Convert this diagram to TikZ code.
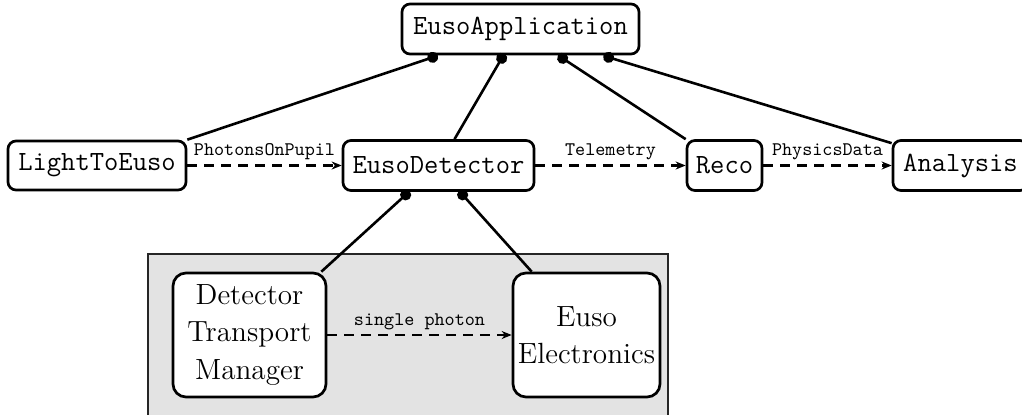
\documentclass[tikz,border=0pt]{standalone}
\usetikzlibrary{arrows.meta,calc}
\begin{document}
\begin{tikzpicture}[x=0.5pt,y=-0.5pt,
 box/.style={draw, line width=1.35pt, rounded corners=4pt, fill=white, inner sep=0pt, font=\fontsize{13.9}{16}\selectfont\ttfamily},
 sbox/.style={draw, line width=1.35pt, rounded corners=6.5pt, fill=white, inner sep=0pt, align=center, font=\fontsize{14.6}{18.75}\selectfont},
 link/.style={line width=1.3pt, {Circle[length=5.5pt]}-, shorten <=-2.75pt},
 flow/.style={line width=1.3pt, dash pattern=on 5pt off 3.5pt, -{Stealth[length=5pt,width=4pt]}},
 lab/.style={above, inner sep=2pt, font=\fontsize{9.6}{11}\selectfont\ttfamily}]
\useasboundingbox (0,0) rectangle (1022,414);
\fill[black!11, draw=black!85, line width=0.9pt] (148,254) rectangle (668,440);
\node[box, minimum width=118.5pt, minimum height=25pt] (app) at (520.5,29) {EusoApplication};
\node[box, minimum width=89pt, minimum height=24.5pt] (lte) at (97,165.5) {LightToEuso};
\node[box, minimum width=95.5pt, minimum height=25pt] (det) at (438.5,165.5) {EusoDetector};
\node[box, minimum width=37.5pt, minimum height=25pt] (reco) at (724.5,165.5) {Reco};
\node[box, minimum width=67.5pt, minimum height=25pt] (ana) at (960.5,165.5) {Analysis};
\node[sbox, minimum width=76.5pt, minimum height=62pt] (dtm) at (249.5,335) {Detector\\Transport\\Manager};
\node[sbox, minimum width=73.5pt, minimum height=62pt] (ee) at (586.5,335) {Euso\\Electronics};
\draw[link] ($(app.south west)+(32,2)$) -- (lte.north east);
\draw[link] ($(app.south west)+(101,3)$) -- ($(det.north)+(16,0)$);
\draw[link] ($(app.south west)+(162,3)$) -- (reco.north west);
\draw[link] ($(app.south west)+(208,2)$) -- ($(ana.north west)+(0,4)$);
\draw[link] ($(det.south west)+(64,3)$) -- ($(dtm.north east)+(-6,0)$);
\draw[link] ($(det.south west)+(121,3)$) -- ($(ee.north west)+(20,0)$);
\draw[flow] (lte.east) -- node[lab] {PhotonsOnPupil} (det.west);
\draw[flow] (det.east) -- node[lab] {Telemetry} (reco.west);
\draw[flow] (reco.east) -- node[lab] {PhysicsData} (ana.west);
\draw[flow] (dtm.east) -- node[lab] {single photon} (ee.west);
\end{tikzpicture}
\end{document}
